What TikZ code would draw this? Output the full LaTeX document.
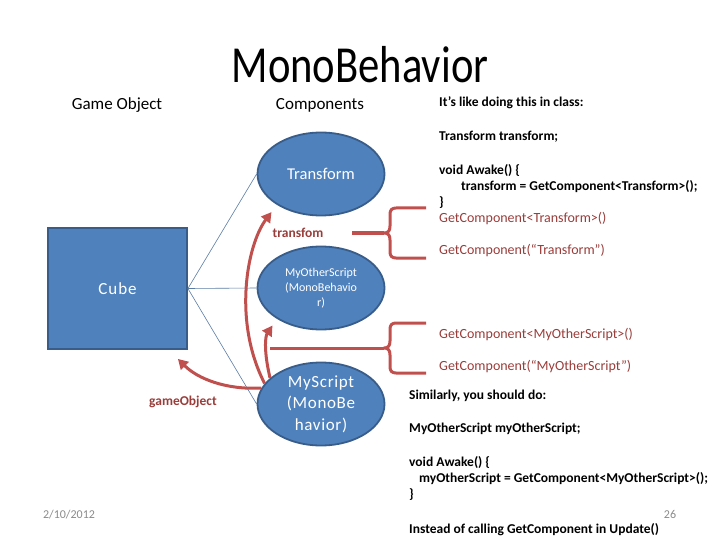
\documentclass[tikz,border=0pt]{standalone}
\usepackage{fontspec}
\setmainfont{Carlito}
\newfontfamily\titlefont[FakeStretch=0.82]{Carlito}
\usetikzlibrary{arrows.meta,shapes.geometric,calc}
\definecolor{boxblue}{HTML}{4F81BD}
\definecolor{boxborder}{HTML}{385D8A}
\definecolor{arrowred}{HTML}{C0504D}
\definecolor{textred}{HTML}{993D3A}
\definecolor{thinline}{HTML}{5A7BA3}
\definecolor{dategray}{HTML}{8A8A8A}
\begin{document}
\begin{tikzpicture}[x=1pt,y=-1pt,
  comp/.style={ellipse, draw=boxborder, line width=1.8pt, fill=boxblue,
    minimum width=127pt, minimum height=83pt, inner sep=0pt},
  comptext/.style={text=white, align=center, inner sep=0pt},
  thin/.style={draw=thinline, line width=0.6pt},
  redarrow/.style={draw=arrowred, line width=3pt,
    -{Triangle[length=10pt,width=11pt]}},
  bracestyle/.style={draw=arrowred, line width=3pt, line join=round},
  head/.style={inner sep=0pt, font=\fontsize{17}{20}\selectfont},
  codeb/.style={anchor=base west, inner sep=0pt, font=\bfseries\fontsize{13.5}{16}\selectfont},
  coder/.style={anchor=base west, inner sep=0pt, text=textred, font=\fontsize{14}{16}\selectfont},
  lab/.style={inner sep=0pt, text=textred, font=\bfseries\fontsize{13.5}{16}\selectfont},
  small/.style={inner sep=0pt, text=dategray, font=\fontsize{12}{14}\selectfont}]
\useasboundingbox (0,0) rectangle (720,540);

% title and headings
\node[anchor=base, inner sep=0pt, font=\titlefont\fontsize{52}{60}\selectfont] (title) at (360,83) {MonoBehavior};
\node[head, anchor=base] (gohead) at (117,110) {Game Object};
\node[head, anchor=base] (comphead) at (320,110) {Components};

% cube
\node[draw=boxborder, line width=1.8pt, fill=boxblue, minimum width=139pt, minimum height=121pt, inner sep=0pt] (Cube) at (117.5,288.5) {};
\node[comptext, font=\addfontfeature{LetterSpace=6}\fontsize{17}{20}\selectfont] (CubeText) at (Cube) {Cube};

% components
\node[comp] (Transform) at (321,174) {};
\node[comptext, font=\fontsize{16.5}{20}\selectfont] (TransformText) at (Transform) {Transform};
\node[comp] (Other) at (321,288) {};
\node[comptext, font=\fontsize{12}{15}\selectfont] (OtherText) at (Other) {MyOtherScript\\(MonoBehavio\\r)};
\node[comp] (MyScript) at (321,404) {};
\node[comptext, font=\addfontfeature{LetterSpace=4}\fontsize{17}{21.5}\selectfont] (MyScriptText) at (MyScript) {MyScript\\(MonoBe\\havior)};

% thin connectors
\draw[thin] (Cube.east) -- (Transform.west);
\draw[thin] (Cube.east) -- (Other.west);
\draw[thin] (Cube.east) -- (MyScript.west);

% labels
\node[lab] (transfom) at (298,233) {transfom};
\node[lab] (gameObject) at (183,402) {gameObject};

% red arrows
\draw[redarrow, shorten >=9pt] (MyScript.160) .. controls +(-32,-62) and +(-30,40) .. (Transform.215);
\draw[redarrow, shorten >=8pt] (MyScript.153) .. controls +(-6,-25) and +(-12,18) .. (Other.215);
\coordinate (goTip) at ([shift={(-10,9)}]Cube.south east);
\draw[redarrow] (MyScript.165) .. controls +(-35,2) and +(20,20) .. (goTip);

% braces
\coordinate (b1s) at (352,233);
\coordinate (b1t) at (384,233);
\draw[bracestyle] (b1s) -- (b1t);
\draw[bracestyle] (426,208) -- (396,208) .. controls (392,208) and (390,210) .. (390,214)
  -- (390,226) .. controls (390,231) and (388,233) .. (b1t)
  .. controls (388,233) and (390,235) .. (390,240) -- (390,252)
  .. controls (390,256) and (392,258) .. (396,258) -- (426,258);
\coordinate (b2s) at (270,348);
\coordinate (b2t) at (384,348);
\draw[bracestyle] (b2s) -- (b2t);
\draw[bracestyle] (426,323) -- (396,323) .. controls (392,323) and (390,325) .. (390,329)
  -- (390,341) .. controls (390,346) and (388,348) .. (b2t)
  .. controls (388,348) and (390,350) .. (390,355) -- (390,367)
  .. controls (390,371) and (392,373) .. (396,373) -- (426,373);

% right column text
\node[codeb] (c1) at (439,106.5) {It’s like doing this in class:};
\node[codeb] (c2) at (439,140.5) {Transform transform;};
\node[codeb] (c3) at (439,174.5) {void Awake() \{};
\node[codeb] (c4) at (461,190.5) {transform = GetComponent<Transform>();};
\node[codeb] (c5) at (439,206.5) {\}};
\node[coder] (c6) at (439,222.5) {GetComponent<Transform>()};
\node[coder] (c7) at (439,254.5) {GetComponent(“Transform”)};
\node[coder] (c8) at (439,338.5) {GetComponent<MyOtherScript>()};
\node[coder] (c9) at (439,370.5) {GetComponent(“MyOtherScript”)};
\node[codeb] (c10) at (409,399.5) {Similarly, you should do:};
\node[codeb] (c11) at (409,432.5) {MyOtherScript myOtherScript;};
\node[codeb] (c12) at (409,466.5) {void Awake() \{};
\node[codeb] (c13) at (419,482.5) {myOtherScript = GetComponent<MyOtherScript>();};
\node[codeb] (c14) at (409,498.5) {\}};
\node[codeb] (c15) at (409,533.5) {Instead of calling GetComponent in Update()};

% footer
\node[small] (date) at (69,515) {2/10/2012};
\node[small] (page) at (670,514) {26};
\end{tikzpicture}
\end{document}
